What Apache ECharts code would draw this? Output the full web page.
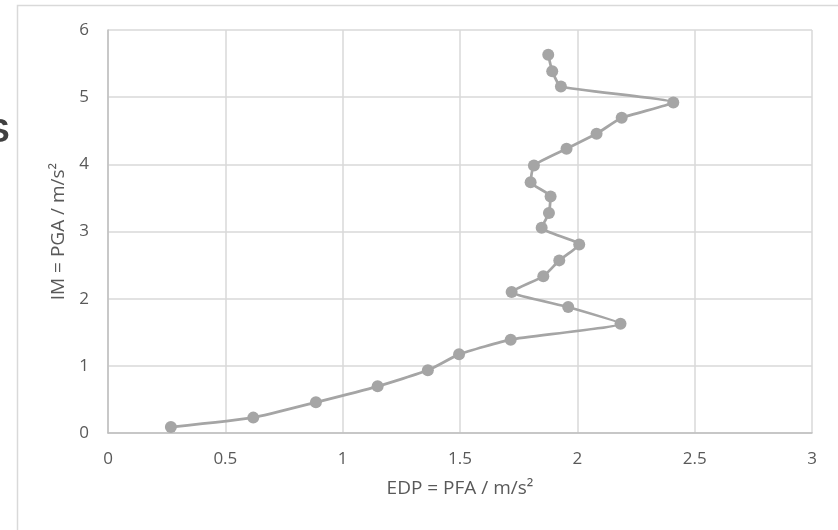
<!DOCTYPE html>
<html>
<head>
<meta charset="utf-8">
<script src="https://cdn.jsdelivr.net/npm/echarts@6/dist/echarts.min.js"></script>
<style>html,body{margin:0;padding:0;background:#fff}#c{width:838px;height:530px}</style>
</head>
<body>
<div id="c"></div>
<script>
const pfa = [0.268, 0.619, 0.886, 1.149, 1.363, 1.496, 1.716, 2.184, 1.961, 1.720, 1.855, 1.923, 2.008, 1.848, 1.879, 1.886, 1.801, 1.815, 1.954, 2.082, 2.189, 2.409, 1.930, 1.893, 1.876];
const pga = [0.089, 0.229, 0.457, 0.695, 0.933, 1.171, 1.390, 1.628, 1.875, 2.098, 2.332, 2.570, 2.808, 3.057, 3.274, 3.522, 3.735, 3.984, 4.232, 4.455, 4.693, 4.921, 5.159, 5.387, 5.631];
const xTitle = 'EDP = PFA / m/s²';
const yTitle = 'IM = PGA / m/s²';

const font = "'Open Sans', 'Liberation Sans', sans-serif";
const chart = echarts.init(document.getElementById('c'), null, {renderer: 'canvas'});
chart.setOption({
  animation: false,
  backgroundColor: '#fff',
  grid: {left: 108, right: 26, top: 30, bottom: 97},
  graphic: [
    {type: 'rect', shape: {x: 17.5, y: 5.5, width: 900, height: 600}, style: {fill: 'none', stroke: '#d9d9d9', lineWidth: 1.5}, z: -1},
    {type: 'text', left: -13, top: 116, style: {text: 'S', fontSize: 34, fontWeight: 'bold', fill: '#404040', fontFamily: "'Liberation Sans', sans-serif"}}
  ],
  xAxis: {
    type: 'value', min: 0, max: 3, interval: 0.5,
    name: xTitle, nameLocation: 'middle', nameGap: 46,
    nameTextStyle: {color: '#595959', fontSize: 19, fontFamily: font},
    axisLine: {show: true, lineStyle: {color: '#bfbfbf', width: 1.5}},
    axisTick: {show: false},
    axisLabel: {color: '#595959', fontSize: 17, margin: 18, fontFamily: font},
    splitLine: {show: true, lineStyle: {color: '#d9d9d9', width: 1.5}}
  },
  yAxis: {
    type: 'value', min: 0, max: 6, interval: 1,
    name: yTitle, nameLocation: 'middle', nameGap: 34,
    nameTextStyle: {color: '#595959', fontSize: 19, fontFamily: font},
    axisLine: {show: true, lineStyle: {color: '#bfbfbf', width: 1.5}},
    axisTick: {show: false},
    axisLabel: {color: '#595959', fontSize: 17, margin: 19, fontFamily: font},
    splitLine: {show: true, lineStyle: {color: '#d9d9d9', width: 1.5}}
  },
  series: [{
    type: 'line',
    data: pfa.map((v, i) => [v, pga[i]]),
    smooth: 0.15,
    symbol: 'circle',
    symbolSize: 12,
    itemStyle: {color: '#a5a5a5'},
    lineStyle: {color: '#a5a5a5', width: 2.75}
  }]
});
</script>
</body>
</html>
